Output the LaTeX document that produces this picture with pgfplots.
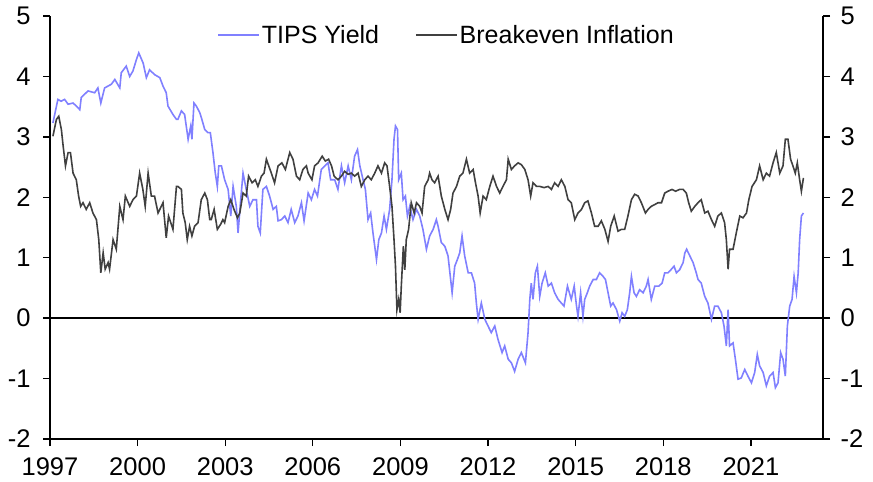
\documentclass[border=0pt]{standalone}
\usepackage{pgfplots}
\pgfplotsset{compat=1.18}
\usepackage{fontspec}
\setmainfont{Liberation Sans}
\definecolor{tipscol}{HTML}{8080FF}
\definecolor{beicol}{HTML}{404040}

\pgfplotstableread{
year val
1997.10 3.23
1997.27 3.62
1997.38 3.59
1997.50 3.62
1997.62 3.54
1997.79 3.56
1997.90 3.51
1998.02 3.45
1998.07 3.65
1998.30 3.76
1998.53 3.73
1998.64 3.81
1998.74 3.56
1998.87 3.81
1999.10 3.87
1999.22 3.95
1999.39 3.81
1999.44 4.06
1999.61 4.17
1999.73 4.00
1999.84 4.09
1999.96 4.28
2000.04 4.39
2000.19 4.22
2000.30 3.98
2000.41 4.11
2000.58 4.03
2000.76 3.98
2000.87 3.84
2000.98 3.73
2001.04 3.51
2001.21 3.37
2001.33 3.29
2001.38 3.29
2001.50 3.43
2001.61 3.37
2001.73 2.96
2001.82 3.18
2001.86 2.96
2001.93 3.56
2002.01 3.51
2002.13 3.40
2002.20 3.29
2002.30 3.12
2002.41 3.07
2002.49 3.07
2002.58 2.74
2002.66 2.40
2002.73 2.18
2002.78 2.52
2002.87 2.52
2002.98 2.29
2003.10 2.13
2003.19 1.69
2003.27 2.18
2003.38 1.85
2003.44 1.41
2003.53 1.96
2003.61 2.40
2003.72 2.13
2003.84 1.85
2003.95 1.96
2004.07 1.96
2004.12 1.52
2004.20 1.41
2004.29 2.13
2004.41 2.18
2004.52 2.02
2004.64 1.80
2004.75 1.85
2004.81 1.61
2004.92 1.63
2005.04 1.69
2005.15 1.58
2005.26 1.80
2005.38 1.58
2005.49 1.69
2005.61 1.91
2005.70 1.61
2005.84 2.07
2005.95 1.96
2006.06 2.13
2006.16 2.02
2006.29 2.46
2006.41 2.52
2006.52 2.57
2006.61 2.29
2006.75 2.29
2006.86 2.13
2006.98 2.52
2007.09 2.24
2007.21 2.52
2007.32 2.29
2007.43 2.68
2007.53 2.79
2007.61 2.52
2007.72 2.29
2007.80 2.13
2007.89 1.63
2007.98 1.74
2008.06 1.41
2008.18 0.97
2008.26 1.30
2008.35 1.41
2008.44 1.69
2008.52 1.47
2008.63 1.80
2008.71 2.29
2008.78 2.96
2008.83 3.18
2008.90 3.12
2008.94 2.29
2009.03 2.40
2009.09 1.96
2009.17 2.02
2009.24 1.69
2009.32 1.85
2009.43 1.63
2009.55 1.80
2009.66 1.69
2009.77 1.47
2009.89 1.14
2010.00 1.36
2010.12 1.47
2010.23 1.63
2010.29 1.52
2010.40 1.25
2010.52 1.19
2010.63 1.03
2010.77 0.42
2010.86 0.86
2010.95 0.97
2011.03 1.08
2011.11 1.36
2011.20 1.03
2011.32 0.75
2011.43 0.75
2011.54 0.58
2011.60 0.25
2011.66 -0.02
2011.77 0.25
2011.89 -0.02
2012.00 -0.13
2012.11 -0.24
2012.23 -0.13
2012.34 -0.35
2012.48 -0.57
2012.57 -0.46
2012.69 -0.68
2012.80 -0.74
2012.91 -0.88
2013.03 -0.68
2013.14 -0.57
2013.28 -0.74
2013.37 -0.24
2013.43 0.31
2013.48 0.58
2013.54 0.31
2013.62 0.75
2013.69 0.86
2013.77 0.36
2013.85 0.58
2013.96 0.75
2014.06 0.53
2014.17 0.58
2014.28 0.42
2014.40 0.31
2014.51 0.25
2014.60 0.20
2014.72 0.53
2014.85 0.31
2014.95 0.53
2015.03 0.20
2015.08 0.03
2015.17 0.42
2015.25 0.03
2015.31 0.31
2015.40 0.42
2015.48 0.53
2015.60 0.64
2015.71 0.64
2015.82 0.75
2015.94 0.69
2016.02 0.64
2016.11 0.42
2016.20 0.20
2016.28 0.25
2016.40 0.14
2016.51 -0.05
2016.59 0.09
2016.68 0.03
2016.77 0.14
2016.85 0.42
2016.91 0.69
2017.00 0.42
2017.08 0.36
2017.19 0.47
2017.31 0.42
2017.42 0.53
2017.48 0.64
2017.59 0.31
2017.71 0.53
2017.85 0.53
2017.96 0.58
2018.05 0.75
2018.16 0.75
2018.26 0.80
2018.37 0.86
2018.45 0.75
2018.56 0.80
2018.68 0.92
2018.74 1.08
2018.80 1.14
2018.91 1.03
2019.02 0.92
2019.13 0.75
2019.19 0.64
2019.30 0.58
2019.42 0.36
2019.53 0.25
2019.65 -0.02
2019.76 0.20
2019.87 0.20
2019.99 0.09
2020.08 -0.13
2020.16 -0.46
2020.22 0.14
2020.27 -0.46
2020.39 -0.41
2020.47 -0.68
2020.56 -1.01
2020.67 -0.99
2020.79 -0.85
2020.90 -0.96
2021.02 -1.07
2021.13 -0.90
2021.22 -0.60
2021.30 -0.79
2021.42 -0.90
2021.53 -1.12
2021.64 -0.96
2021.76 -0.90
2021.84 -1.15
2021.93 -1.07
2022.02 -0.57
2022.10 -0.68
2022.18 -0.96
2022.25 -0.13
2022.33 0.20
2022.41 0.31
2022.48 0.69
2022.56 0.42
2022.62 0.75
2022.67 1.30
2022.73 1.69
2022.80 1.74
}\tipsdata

\pgfplotstableread{
year val
1997.10 3.01
1997.22 3.29
1997.30 3.34
1997.39 3.12
1997.45 2.85
1997.53 2.52
1997.62 2.74
1997.70 2.74
1997.79 2.40
1997.90 2.29
1997.98 2.02
1998.05 1.85
1998.13 1.91
1998.24 1.80
1998.36 1.91
1998.47 1.74
1998.59 1.63
1998.67 1.30
1998.74 0.75
1998.82 1.08
1998.89 0.81
1998.99 0.92
1999.04 0.81
1999.16 1.30
1999.27 1.14
1999.39 1.85
1999.50 1.63
1999.58 2.02
1999.73 1.85
1999.84 1.96
1999.96 2.02
2000.07 2.40
2000.18 2.13
2000.26 1.85
2000.36 2.40
2000.47 2.02
2000.58 2.02
2000.70 1.74
2000.87 1.91
2000.98 1.33
2001.06 1.69
2001.21 1.47
2001.33 2.18
2001.38 2.18
2001.50 2.13
2001.55 1.74
2001.63 1.58
2001.70 1.30
2001.78 1.52
2001.86 1.36
2001.95 1.52
2002.07 1.58
2002.18 1.96
2002.30 2.07
2002.39 1.96
2002.47 1.63
2002.52 1.63
2002.62 1.80
2002.73 1.47
2002.84 1.55
2002.92 1.63
2002.98 1.58
2003.10 1.85
2003.19 1.96
2003.30 1.80
2003.42 1.66
2003.50 1.74
2003.61 2.07
2003.72 2.02
2003.80 2.35
2003.92 2.24
2004.03 2.29
2004.12 2.18
2004.24 2.35
2004.33 2.40
2004.41 2.63
2004.49 2.52
2004.58 2.40
2004.69 2.24
2004.81 2.52
2004.94 2.57
2005.06 2.46
2005.21 2.74
2005.32 2.63
2005.44 2.35
2005.55 2.29
2005.66 2.46
2005.78 2.52
2005.84 2.40
2005.97 2.29
2006.06 2.52
2006.18 2.57
2006.32 2.68
2006.43 2.60
2006.54 2.63
2006.64 2.52
2006.73 2.35
2006.86 2.29
2006.98 2.35
2007.09 2.43
2007.21 2.38
2007.32 2.40
2007.43 2.35
2007.55 2.40
2007.66 2.18
2007.78 2.29
2007.89 2.35
2008.00 2.29
2008.12 2.40
2008.23 2.52
2008.35 2.40
2008.46 2.57
2008.54 2.52
2008.63 2.18
2008.71 1.85
2008.78 1.30
2008.83 0.86
2008.88 0.14
2008.94 0.31
2008.99 0.09
2009.03 0.53
2009.10 1.19
2009.15 0.80
2009.20 1.30
2009.28 1.47
2009.37 1.91
2009.47 1.74
2009.55 1.91
2009.66 1.85
2009.74 1.74
2009.83 2.18
2009.95 2.29
2010.00 2.40
2010.08 2.29
2010.17 2.24
2010.29 2.35
2010.40 2.02
2010.52 1.80
2010.63 1.63
2010.72 1.80
2010.80 2.07
2010.92 2.18
2011.03 2.35
2011.14 2.40
2011.26 2.63
2011.37 2.40
2011.49 2.46
2011.57 2.24
2011.66 2.02
2011.73 1.74
2011.83 2.02
2011.94 1.96
2012.06 2.18
2012.17 2.35
2012.29 2.18
2012.40 2.07
2012.51 2.18
2012.63 2.29
2012.69 2.63
2012.80 2.46
2012.91 2.52
2013.03 2.57
2013.14 2.54
2013.26 2.46
2013.37 2.29
2013.46 2.02
2013.54 2.24
2013.66 2.18
2013.77 2.18
2013.92 2.16
2014.06 2.18
2014.17 2.13
2014.28 2.24
2014.40 2.18
2014.51 2.29
2014.63 2.18
2014.74 1.96
2014.85 1.91
2014.97 1.63
2015.08 1.74
2015.20 1.80
2015.31 1.91
2015.42 1.94
2015.54 1.74
2015.65 1.52
2015.77 1.52
2015.88 1.61
2016.00 1.47
2016.11 1.27
2016.20 1.52
2016.32 1.69
2016.45 1.44
2016.57 1.47
2016.68 1.47
2016.79 1.69
2016.91 1.96
2017.02 2.05
2017.14 2.02
2017.25 1.91
2017.39 1.74
2017.48 1.80
2017.59 1.85
2017.71 1.88
2017.82 1.91
2017.94 1.91
2018.05 2.07
2018.16 2.10
2018.30 2.13
2018.42 2.10
2018.56 2.13
2018.68 2.13
2018.79 2.07
2018.87 1.91
2018.96 1.77
2019.08 1.85
2019.19 1.91
2019.30 1.96
2019.42 1.74
2019.53 1.77
2019.65 1.63
2019.76 1.52
2019.87 1.69
2019.99 1.74
2020.10 1.58
2020.16 1.30
2020.22 0.81
2020.27 1.14
2020.39 1.14
2020.50 1.41
2020.62 1.69
2020.73 1.66
2020.85 1.74
2020.93 1.96
2021.04 2.18
2021.19 2.29
2021.30 2.52
2021.42 2.29
2021.53 2.40
2021.64 2.35
2021.76 2.57
2021.87 2.74
2021.99 2.40
2022.10 2.52
2022.18 2.96
2022.27 2.96
2022.36 2.63
2022.44 2.52
2022.52 2.40
2022.59 2.57
2022.67 2.29
2022.73 2.10
2022.80 2.32
}\beidata

\pgfplotsset{
  base/.style={
    scale only axis, width=773pt, height=423pt,
    xmin=1997, xmax=2023.47, ymin=-2, ymax=5,
    ytick={-2,...,5},
    yticklabels={-2,-1,0,1,2,3,4,5},
    tick align=outside, major tick length=7pt,
    axis line style={black, line width=1.3pt},
    tick style={black, line width=1.3pt},
    tick label style={font=\fontsize{25.5}{30}\selectfont},
  }
}

\begin{document}
\begin{tikzpicture}
\begin{axis}[base,
  axis x line*=bottom, axis y line*=left,
  xtick={1997,2000,...,2021},
  xticklabels={1997,2000,2003,2006,2009,2012,2015,2018,2021},
  yticklabel style={xshift=-9pt},
  xticklabel style={yshift=-8pt},
  legend columns=2,
  legend cell align=left,
  legend image code/.code={\draw[#1] (0pt,0pt) -- (41pt,0pt);},
  legend style={draw=none, fill=none, at={(axis description cs:0.513,0.955)},
    anchor=center, font=\fontsize{25}{30}\selectfont,
    /tikz/every even column/.append style={column sep=34pt}},
]
\draw[black, line width=1.3pt] (axis cs:1997,0) -- (axis cs:2023.47,0);
\addplot[tipscol, line width=1.6pt] table[x=year, y=val] {\tipsdata};
\addlegendentry{TIPS Yield}
\addplot[beicol, line width=1.6pt] table[x=year, y=val] {\beidata};
\addlegendentry{Breakeven Inflation}
\end{axis}
\begin{axis}[base,
  axis y line*=right, axis x line=none,
  yticklabel style={xshift=7pt},
]
\end{axis}
\pgfresetboundingbox
\path (-50pt,-43pt) rectangle (823pt,439pt);
\end{tikzpicture}
\end{document}
